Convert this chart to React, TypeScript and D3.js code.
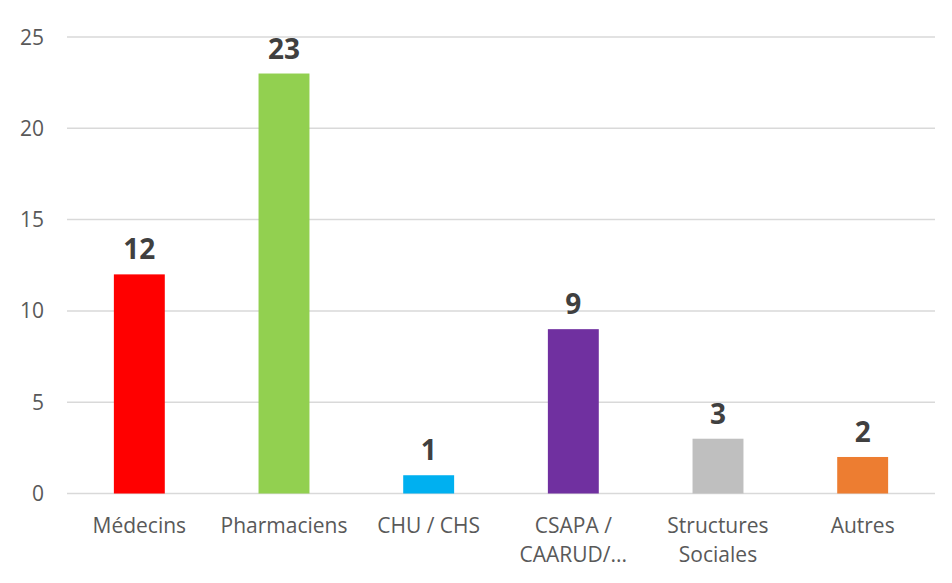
import React, { useEffect } from "react";
import * as d3 from "d3";

const categories = ["Médecins", "Pharmaciens", "CHU / CHS", "CSAPA / CAARUD/...", "Structures Sociales", "Autres"];
const categoryLines = [["Médecins"], ["Pharmaciens"], ["CHU / CHS"], ["CSAPA /", "CAARUD/..."], ["Structures", "Sociales"], ["Autres"]];
const values = [12, 23, 1, 9, 3, 2];
const colors = ["#FF0000", "#92D050", "#00B0F0", "#7030A0", "#BFBFBF", "#ED7D31"];
const yTicks = [0, 5, 10, 15, 20, 25];

const W = 952;
const H = 583;
const FONT = "'Open Sans', sans-serif";

export default function App() {
  useEffect(() => {
    document.body.style.margin = "0";
  }, []);

  const x = d3.scaleBand<string>().domain(categories).range([67, 935]).paddingInner(0.648).paddingOuter(0.324);
  const y = d3.scaleLinear().domain([0, 25]).range([493.5, 37]);

  return (
    <svg width={W} height={H} style={{ display: "block", background: "#fff" }}>
      {yTicks.map((t) => (
        <g key={t}>
          <line x1={67} x2={935} y1={y(t)} y2={y(t)} stroke="#D9D9D9" strokeWidth={1.5} />
          <text x={44} y={y(t) + 7.5} textAnchor="end" fontFamily={FONT} fontSize={21} fill="#595959">
            {t}
          </text>
        </g>
      ))}
      {categories.map((c, i) => (
        <g key={c}>
          <rect x={x(c)} y={y(values[i])} width={x.bandwidth()} height={y(0) - y(values[i])} fill={colors[i]} />
          <text
            x={(x(c) as number) + x.bandwidth() / 2}
            y={y(values[i]) - 15}
            textAnchor="middle"
            fontFamily={FONT}
            fontWeight="bold"
            fontSize={28}
            fill="#404040"
          >
            {values[i]}
          </text>
          {categoryLines[i].map((ln, j) => (
            <text
              key={j}
              x={(x(c) as number) + x.bandwidth() / 2}
              y={533 + j * 29}
              textAnchor="middle"
              fontFamily={FONT}
              fontSize={21}
              fill="#595959"
            >
              {ln}
            </text>
          ))}
        </g>
      ))}
    </svg>
  );
}
